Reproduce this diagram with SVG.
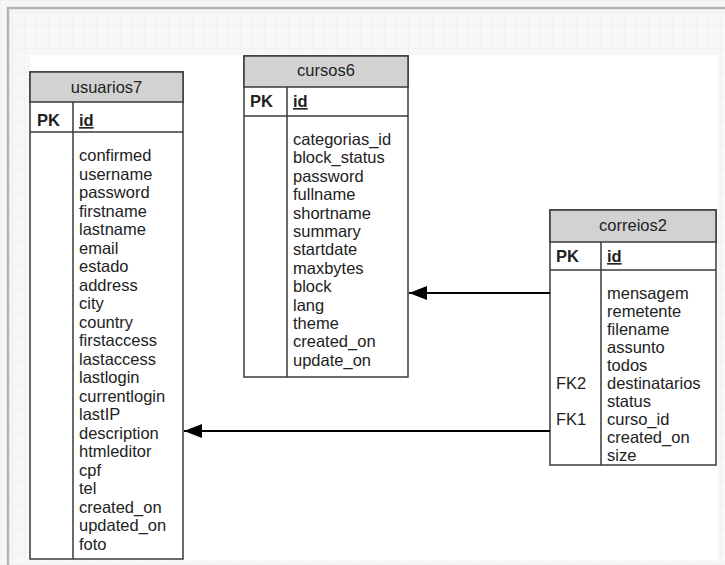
<svg xmlns="http://www.w3.org/2000/svg" width="725" height="565" viewBox="0 0 725 565">
<defs>
<pattern id="grid" width="12" height="12" patternUnits="userSpaceOnUse">
<rect width="12" height="12" fill="#f7f7f7"/>
<path d="M0 0.5H12M0.5 0V12" stroke="#f1f1f1" stroke-width="1"/>
</pattern>
<marker id="arr" viewBox="0 0 18 14" refX="18" refY="7" markerWidth="18" markerHeight="14" markerUnits="userSpaceOnUse" orient="auto">
<path d="M18 7L0 0L0 14Z" fill="#000"/>
</marker>
</defs>
<style>
.t{font-family:"Liberation Sans",Arial,sans-serif;font-size:16.5px;fill:#222}
.b{font-weight:bold}
.u{text-decoration:underline}
.box{fill:#fff;stroke:#3a3a3a;stroke-width:1.5}
.hd{fill:#d2d2d2;stroke:#3a3a3a;stroke-width:1.5}
.ln{stroke:#3a3a3a;stroke-width:1.5;fill:none}
.cn{stroke:#000;stroke-width:2;fill:none}
</style>
<rect x="0" y="0" width="725" height="565" fill="url(#grid)"/>
<path d="M8 565V8H725" stroke="#b4b4b4" stroke-width="2.5" fill="none"/>
<rect x="30" y="55" width="688" height="505" fill="#fff"/>

<g id="usuarios7">
<rect class="box" x="30" y="72" width="153" height="487"/>
<rect class="hd" x="30" y="72" width="153" height="30"/>
<line class="ln" x1="30" y1="132" x2="183" y2="132"/>
<line class="ln" x1="73" y1="102" x2="73" y2="559"/>
<text class="t" x="106.5" y="93" text-anchor="middle">usuarios7</text>
<text class="t b" x="37" y="126">PK</text>
<text class="t b u" x="79" y="126">id</text>
<text class="t" x="79" y="161">confirmed</text>
<text class="t" x="79" y="179.5">username</text>
<text class="t" x="79" y="198">password</text>
<text class="t" x="79" y="216.5">firstname</text>
<text class="t" x="79" y="235">lastname</text>
<text class="t" x="79" y="253.5">email</text>
<text class="t" x="79" y="272">estado</text>
<text class="t" x="79" y="290.5">address</text>
<text class="t" x="79" y="309">city</text>
<text class="t" x="79" y="327.5">country</text>
<text class="t" x="79" y="346">firstaccess</text>
<text class="t" x="79" y="364.5">lastaccess</text>
<text class="t" x="79" y="383">lastlogin</text>
<text class="t" x="79" y="401.5">currentlogin</text>
<text class="t" x="79" y="420">lastIP</text>
<text class="t" x="79" y="438.5">description</text>
<text class="t" x="79" y="457">htmleditor</text>
<text class="t" x="79" y="475.5">cpf</text>
<text class="t" x="79" y="494">tel</text>
<text class="t" x="79" y="512.5">created_on</text>
<text class="t" x="79" y="531">updated_on</text>
<text class="t" x="79" y="549.5">foto</text>
</g>

<g id="cursos6">
<rect class="box" x="244" y="56" width="164" height="321"/>
<rect class="hd" x="244" y="56" width="164" height="31"/>
<line class="ln" x1="244" y1="116" x2="408" y2="116"/>
<line class="ln" x1="287" y1="87" x2="287" y2="377"/>
<text class="t" x="326" y="76" text-anchor="middle">cursos6</text>
<text class="t b" x="250" y="107">PK</text>
<text class="t b u" x="293" y="107">id</text>
<text class="t" x="293" y="145">categorias_id</text>
<text class="t" x="293" y="163.4">block_status</text>
<text class="t" x="293" y="181.8">password</text>
<text class="t" x="293" y="200.2">fullname</text>
<text class="t" x="293" y="218.6">shortname</text>
<text class="t" x="293" y="237">summary</text>
<text class="t" x="293" y="255.4">startdate</text>
<text class="t" x="293" y="273.8">maxbytes</text>
<text class="t" x="293" y="292.2">block</text>
<text class="t" x="293" y="310.6">lang</text>
<text class="t" x="293" y="329">theme</text>
<text class="t" x="293" y="347.4">created_on</text>
<text class="t" x="293" y="365.8">update_on</text>
</g>

<g id="correios2">
<rect class="box" x="550" y="210" width="166" height="255"/>
<rect class="hd" x="550" y="210" width="166" height="32"/>
<line class="ln" x1="550" y1="270" x2="716" y2="270"/>
<line class="ln" x1="601" y1="242" x2="601" y2="465"/>
<text class="t" x="633" y="231" text-anchor="middle">correios2</text>
<text class="t b" x="556" y="262">PK</text>
<text class="t b u" x="607" y="262">id</text>
<text class="t" x="607" y="299">mensagem</text>
<text class="t" x="607" y="317">remetente</text>
<text class="t" x="607" y="335">filename</text>
<text class="t" x="607" y="353">assunto</text>
<text class="t" x="607" y="371">todos</text>
<text class="t" x="556" y="389">FK2</text>
<text class="t" x="607" y="389">destinatarios</text>
<text class="t" x="607" y="407">status</text>
<text class="t" x="556" y="425">FK1</text>
<text class="t" x="607" y="425">curso_id</text>
<text class="t" x="607" y="443">created_on</text>
<text class="t" x="607" y="461">size</text>
</g>

<g id="connectors">
<path class="cn" d="M550 293H409" marker-end="url(#arr)"/>
<path class="cn" d="M550 431H184" marker-end="url(#arr)"/>
</g>
</svg>
